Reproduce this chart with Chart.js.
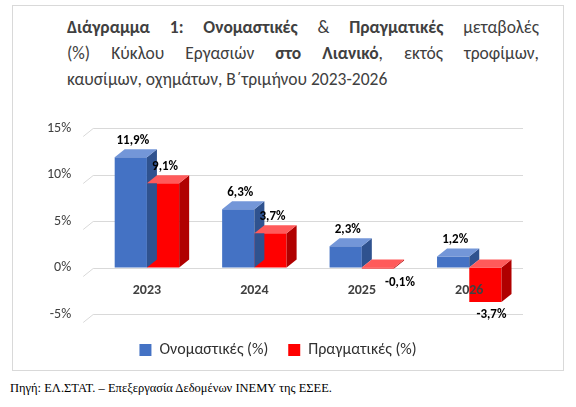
<!DOCTYPE html>
<html lang="el">
<head>
<meta charset="UTF-8" />
<style>
  body { margin: 0; background: #fff; font-family: Carlito, Calibri, 'Open Sans', sans-serif; }
  #box { position: absolute; left: 12px; top: 5px; width: 550px; height: 364px; border: 1px solid #d9d9d9; }
  #title { position: absolute; left: 54px; top: 8px; width: 472px; font-size: 17.5px; line-height: 26px; color: #404040; }
  #title span { display: block; text-align: justify; text-align-last: justify; }
  #title span.last { text-align-last: left; }
  #wrap { position: absolute; left: 0; top: 100px; width: 550px; height: 262px; }
  #src { position: absolute; left: 10px; top: 381px; font-family: 'Liberation Serif', serif; font-size: 12.5px; color: #000; }
</style>
</head>
<body>
<div id="box">
  <div id="title"><span><b>Διάγραμμα 1: Ονομαστικές</b> &amp; <b>Πραγματικές</b> μεταβολές</span><span>(%) Κύκλου Εργασιών <b>στο Λιανικό</b>, εκτός τροφίμων,</span><span class="last">καυσίμων, οχημάτων, Β΄τριμήνου 2023-2026</span></div>
  <div id="wrap"><canvas id="c"></canvas></div>
</div>
<div id="src">Πηγή: ΕΛ.ΣΤΑΤ. – Επεξεργασία Δεδομένων ΙΝΕΜΥ της ΕΣΕΕ.</div>
<script src="https://cdn.jsdelivr.net/npm/chart.js"></script>
<script>
const years = ["2023", "2024", "2025", "2026"];
const nominal = [11.9, 6.3, 2.3, 1.2];
const real = [9.1, 3.7, -0.1, -3.7];
const yTicks = [-5, 0, 5, 10, 15];

const DX = 10, DY = -8;
const faces = [
  { front: "#4472C4", top: "#7396d8", side: "#2f528f" },
  { front: "#FF0000", top: "#ff5a5a", side: "#b00000" }
];
const fmt = v => v.toFixed(1).replace(".", ",") + "%";

const bars3d = {
  id: "bars3d",
  beforeDatasetsDraw(chart) {
    const { ctx, chartArea: a, scales: { y } } = chart;
    ctx.save();
    ctx.strokeStyle = "#d9d9d9";
    ctx.lineWidth = 1;
    yTicks.forEach(t => {
      const py = Math.round(y.getPixelForValue(t)) + 0.5;
      ctx.beginPath();
      ctx.moveTo(a.left - DX, py - DY);
      ctx.lineTo(a.left, py);
      ctx.lineTo(a.right, py);
      ctx.stroke();
    });
    ctx.restore();
  },
  afterDatasetsDraw(chart) {
    const { ctx, scales: { y } } = chart;
    const zero = y.getPixelForValue(0);
    ctx.save();
    chart.data.datasets.forEach((ds, di) => {
      const f = faces[di];
      chart.getDatasetMeta(di).data.forEach((bar, i) => {
        const l = bar.x - bar.width / 2, r = bar.x + bar.width / 2;
        const topY = Math.min(bar.y, zero), botY = Math.max(bar.y, zero);
        ctx.fillStyle = f.side;
        ctx.beginPath();
        ctx.moveTo(r, topY); ctx.lineTo(r + DX, topY + DY);
        ctx.lineTo(r + DX, botY + DY); ctx.lineTo(r, botY); ctx.fill();
        ctx.fillStyle = f.top;
        ctx.beginPath();
        ctx.moveTo(l, topY); ctx.lineTo(l + DX, topY + DY);
        ctx.lineTo(r + DX, topY + DY); ctx.lineTo(r, topY); ctx.fill();
        // value labels
        const v = ds.data[i];
        ctx.fillStyle = "#000";
        ctx.font = "bold 13px Carlito, Calibri, 'Open Sans', sans-serif";
        ctx.textAlign = "center";
        if (v >= 0) {
          ctx.textBaseline = "bottom";
          ctx.fillText(fmt(v), bar.x + 2, topY + DY - 2);
        } else if (v > -1) {
          ctx.textBaseline = "top";
          ctx.fillText(fmt(v), bar.x + 22, botY + 8);
        } else {
          ctx.textBaseline = "top";
          ctx.fillText(fmt(v), bar.x + 6, botY + 6);
        }
      });
    });
    // category labels under the zero line
    ctx.font = "bold 14px Carlito, Calibri, 'Open Sans', sans-serif";
    ctx.fillStyle = "#404040";
    ctx.textAlign = "center";
    ctx.textBaseline = "top";
    chart.scales.x.ticks.forEach((t, i) => {
      ctx.fillText(years[i], chart.scales.x.getPixelForTick(i), zero + 16);
    });
    ctx.restore();
  }
};

new Chart(document.getElementById("c"), {
  type: "bar",
  data: {
    labels: years,
    datasets: [
      { label: "Ονομαστικές (%)", data: nominal, backgroundColor: faces[0].front },
      { label: "Πραγματικές (%)", data: real, backgroundColor: faces[1].front }
    ]
  },
  options: {
    responsive: true,
    maintainAspectRatio: false,
    animation: false,
    layout: { padding: { left: 20, right: 40, top: 14, bottom: 0 } },
    categoryPercentage: 0.6,
    barPercentage: 1,
    plugins: {
      legend: {
        position: "bottom",
        labels: { boxWidth: 12, boxHeight: 12, color: "#303030", padding: 20,
          font: { size: 16, weight: "500", family: "Carlito, Calibri, 'Open Sans', sans-serif" } }
      },
      tooltip: { enabled: false }
    },
    scales: {
      x: { grid: { display: false }, border: { display: false }, ticks: { display: false } },
      y: {
        min: -5, max: 15,
        afterBuildTicks: s => { s.ticks = yTicks.map(v => ({ value: v })); },
        grid: { display: false }, border: { display: false },
        ticks: { color: "#404040", padding: 14, callback: v => v + "%",
          font: { size: 14, family: "Carlito, Calibri, 'Open Sans', sans-serif" } }
      }
    }
  },
  plugins: [bars3d]
});
</script>
</body>
</html>
